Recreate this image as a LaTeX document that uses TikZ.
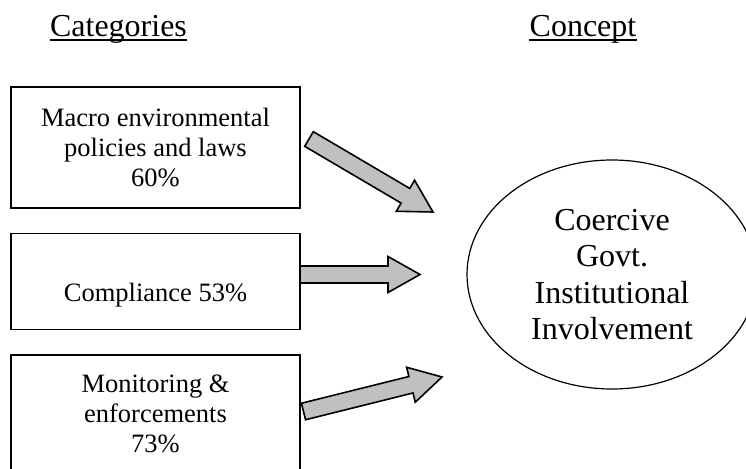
\documentclass[tikz,border=0pt]{standalone}
\usepackage{fontspec}
\setmainfont{Liberation Serif}
\usetikzlibrary{calc,
                positioning,
                shapes.geometric}
\definecolor{arrowgray}{RGB}{192,192,192}
\tikzset{
        heading/.style={inner sep=0pt, anchor=base,
                        font=\fontsize{32}{36}\selectfont},
        underl/.style={line width=1.8pt},
        catbox/.style={draw, line width=1.4pt, align=center, inner sep=0pt,
                       minimum width=289pt,
                       font=\fontsize{26.5}{30}\selectfont},
        concept/.style={ellipse, draw, line width=1.2pt, align=center,
                        inner sep=0pt, minimum width=290pt,
                        minimum height=229pt,
                        font=\fontsize{32}{36.5}\selectfont},
        fatarrow/.style={draw, fill=arrowgray, line width=1.6pt,
                         line join=miter},
 }
\newcommand{\blockarr}[2]{%
    \coordinate (#1-b) at ($(#2)!32pt!(#1)$);
    \draw[fatarrow] ($(#1)!8.5pt!90:(#2)$) -- ($(#1-b)!8.5pt!90:(#2)$)
        -- ($(#1-b)!18pt!90:(#2)$) -- (#2) -- ($(#1-b)!18pt!-90:(#2)$)
        -- ($(#1-b)!8.5pt!-90:(#2)$) -- ($(#1)!8.5pt!-90:(#2)$) -- cycle;
}

\begin{document}
\begin{tikzpicture}[x=1pt, y=-1pt]
    \useasboundingbox (0,0) rectangle (746,468);

    \node[heading] (cat) at (118.5,37) {Categories};
    \node[heading] (con) at (583,37) {Concept};
    \draw[underl] ([yshift=-3pt]cat.base west) -- ([yshift=-3pt]cat.base east);
    \draw[underl] ([yshift=-3pt]con.base west) -- ([yshift=-3pt]con.base east);

    \node[catbox, minimum height=121pt] (macro) at (155.5,147.5)
        {Macro environmental\\policies and laws\\60\%};
    \node[catbox, minimum height=96pt, text height=40pt, text depth=0pt,
          below=24pt of macro] (comp) {Compliance 53\%};
    \node[catbox, minimum height=118pt, below=24pt of comp] (monit)
        {Monitoring \&\\enforcements\\73\%};

    \node[concept] (coerc) at (612,274.5)
        {Coercive\\Govt.\\Institutional\\Involvement};

    \coordinate (t1) at (309,139);
    \coordinate (h1) at (433,212);
    \coordinate (t2) at (300,274.5);
    \coordinate (h2) at (420,274.5);
    \coordinate (t3) at (303.5,411.5);
    \coordinate (h3) at (442,377);
    \blockarr{t1}{h1}
    \blockarr{t2}{h2}
    \blockarr{t3}{h3}
\end{tikzpicture}
\end{document}
